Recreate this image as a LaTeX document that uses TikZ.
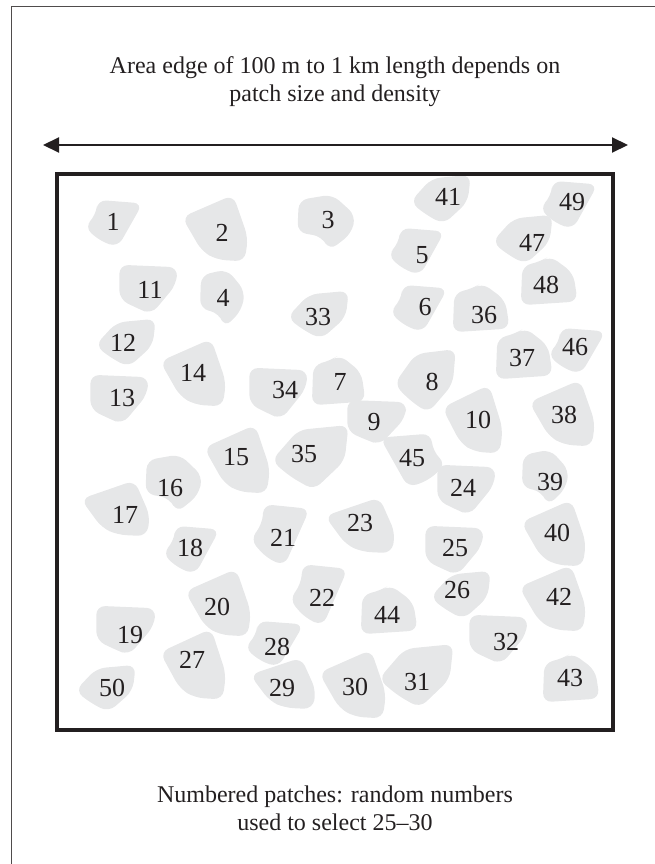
\documentclass[tikz,border=0pt]{standalone}
\usepackage{fontspec}
\setmainfont{Liberation Serif}
\usepackage{tikz}
\usetikzlibrary{arrows.meta}
\definecolor{patchgrey}{HTML}{E6E7E8}
\definecolor{inkblack}{HTML}{231F20}
% patch outlines, unit size, y pointing down
\newcommand{\patchA}{(-0.55,-1) -- (1,-0.85) -- (0.15,1) -- (-0.45,0.75) -- (-1,0.15) -- (-0.6,-0.35) -- cycle}
\newcommand{\patchB}{(-1,-0.35) -- (0.55,-1) -- (1,0.25) -- (0.9,0.95) -- (0.05,0.9) -- (-0.4,0.65) -- cycle}
\newcommand{\patchC}{(-0.95,-0.8) -- (0.2,-1) -- (1,-0.25) -- (0.85,0.4) -- (0.1,1) -- (-0.15,0.5) -- (-1,0.35) -- cycle}
\newcommand{\patchD}{(-1,-1) -- (1,-0.9) -- (0.95,-0.2) -- (0.1,1) -- (-0.4,0.75) -- (-1,0.4) -- cycle}
\newcommand{\patchE}{(-1,0.1) -- (-0.3,-0.85) -- (1,-1) -- (0.9,0.1) -- (0.1,1) -- (-0.5,0.6) -- cycle}
\newcommand{\patchF}{(-0.9,-0.6) -- (-0.3,-0.75) -- (0.05,-1) -- (0.85,-0.3) -- (1,0.85) -- (-0.95,1) -- cycle}

\begin{document}
\begin{tikzpicture}[x=1pt,y=-1pt,
  patch/.style={fill=patchgrey,rounded corners=9pt},
  num/.style={font=\fontsize{26}{26}\selectfont,text=inkblack,inner sep=0pt},
  caption/.style={font=\fontsize{24}{28}\selectfont,text=inkblack,align=center,inner sep=0pt}]
\useasboundingbox (0,0) rectangle (655,864);
\draw[inkblack!80,line width=1pt] (11,864) -- (11,7) -- (655,7);

\node[caption] (title) at (335,82) {Area edge of 100 m to 1 km length depends on\\patch size and density};
\coordinate (west) at (43,145);
\coordinate (east) at (628,145);
\draw[inkblack,line width=2pt,{Triangle[length=16pt,width=15pt]}-{Triangle[length=16pt,width=15pt]}] (west) -- (east);

% patches: centre / half width / half height / outline / number / label position
\foreach \cx/\cy/\hw/\hh/\shape/\n/\tx/\ty in {
  113.5/223.5/26.5/21.5/\patchA/1/113/222, 215/229/30/31/\patchB/2/222/233,
  326.5/222.5/26.5/25.5/\patchC/3/328/220, 222.5/298.5/20.5/26.5/\patchC/4/223/298,
  416/251.5/26/21.5/\patchA/5/422/255, 418.5/308.5/26.5/21.5/\patchA/6/425/307,
  338/380/25/23/\patchF/7/340/382, 425/381/28/29/\patchE/8/432/382,
  377/422.5/27/20.5/\patchD/9/374/422, 472.5/420/27.5/32/\patchB/10/478/420,
  148.5/289.5/26.5/22.5/\patchD/11/150/290, 125.5/343/27.5/22/\patchE/12/123/343,
  119.5/399.5/26.5/22.5/\patchD/13/122/398, 193/373.5/30/31.5/\patchB/14/193/373,
  237/460/30/32/\patchB/15/236/457, 174/483.5/26/26.5/\patchC/16/170/488,
  115.5/509/31.5/26/\patchB/17/125/515, 191/550/26/22/\patchA/18/190/548,
  126/630.5/27/22.5/\patchD/19/130/635, 218/603.5/30/31.5/\patchB/20/217/607,
  280/535/27/28/\patchA/21/283/538, 318.5/595/26.5/28/\patchA/22/322/598,
  360/526/32/26/\patchB/23/360/523, 466.5/490/26.5/23/\patchD/24/463/488,
  454.5/550.5/26.5/22.5/\patchD/25/455/548, 460.5/595/27.5/22/\patchE/26/457/590,
  193/665/30/33/\patchB/27/192/660, 274/644/27/21/\patchA/28/277/647,
  283/684/30/24/\patchB/29/282/688, 352.5/685/30.5/32/\patchB/30/355/687,
  416/676/34/29/\patchE/31/417/682, 498.5/639.5/26.5/22.5/\patchD/32/506/642,
  318/315/28/22/\patchE/33/318/317, 278.5/393.5/26.5/23.5/\patchD/34/285/390,
  310/457.5/35/29.5/\patchE/35/304/454, 480.5/307.5/26.5/22.5/\patchF/36/484/315,
  523.5/353.5/26.5/23.5/\patchF/37/522/358, 562/414/30/31/\patchB/38/564/415,
  545.5/477.5/21.5/25.5/\patchC/39/550/482, 553.5/534/29.5/31/\patchB/40/557/533,
  440.5/199.5/27.5/22.5/\patchE/41/448/197, 552.5/599/30.5/31/\patchB/42/559/597,
  570.5/677.5/26.5/22.5/\patchF/43/570/678, 388.5/609.5/26.5/22.5/\patchF/44/387/615,
  413/460.5/-30/24.5/\patchA/45/412/458, 576.5/351/26.5/21/\patchA/46/575/347,
  522.5/239.5/27.5/22.5/\patchE/47/532/243, 548.5/280.5/26.5/22.5/\patchF/48/546/285,
  568.5/205/26.5/22/\patchA/49/572/202, 105.5/688.5/27.5/21.5/\patchE/50/112/688}
{
  \fill[patch,shift={(\cx,\cy)},xscale={1.1*\hw},yscale={1.1*\hh}] \shape;
  \node[num] (p\n) at (\tx,\ty) {\n};
}

\draw[inkblack,line width=4pt] (57,174) rectangle (613,730);

\node[caption] (note) at (335,808) {Numbered patches: random numbers\\used to select 25--30};
\end{tikzpicture}
\end{document}
